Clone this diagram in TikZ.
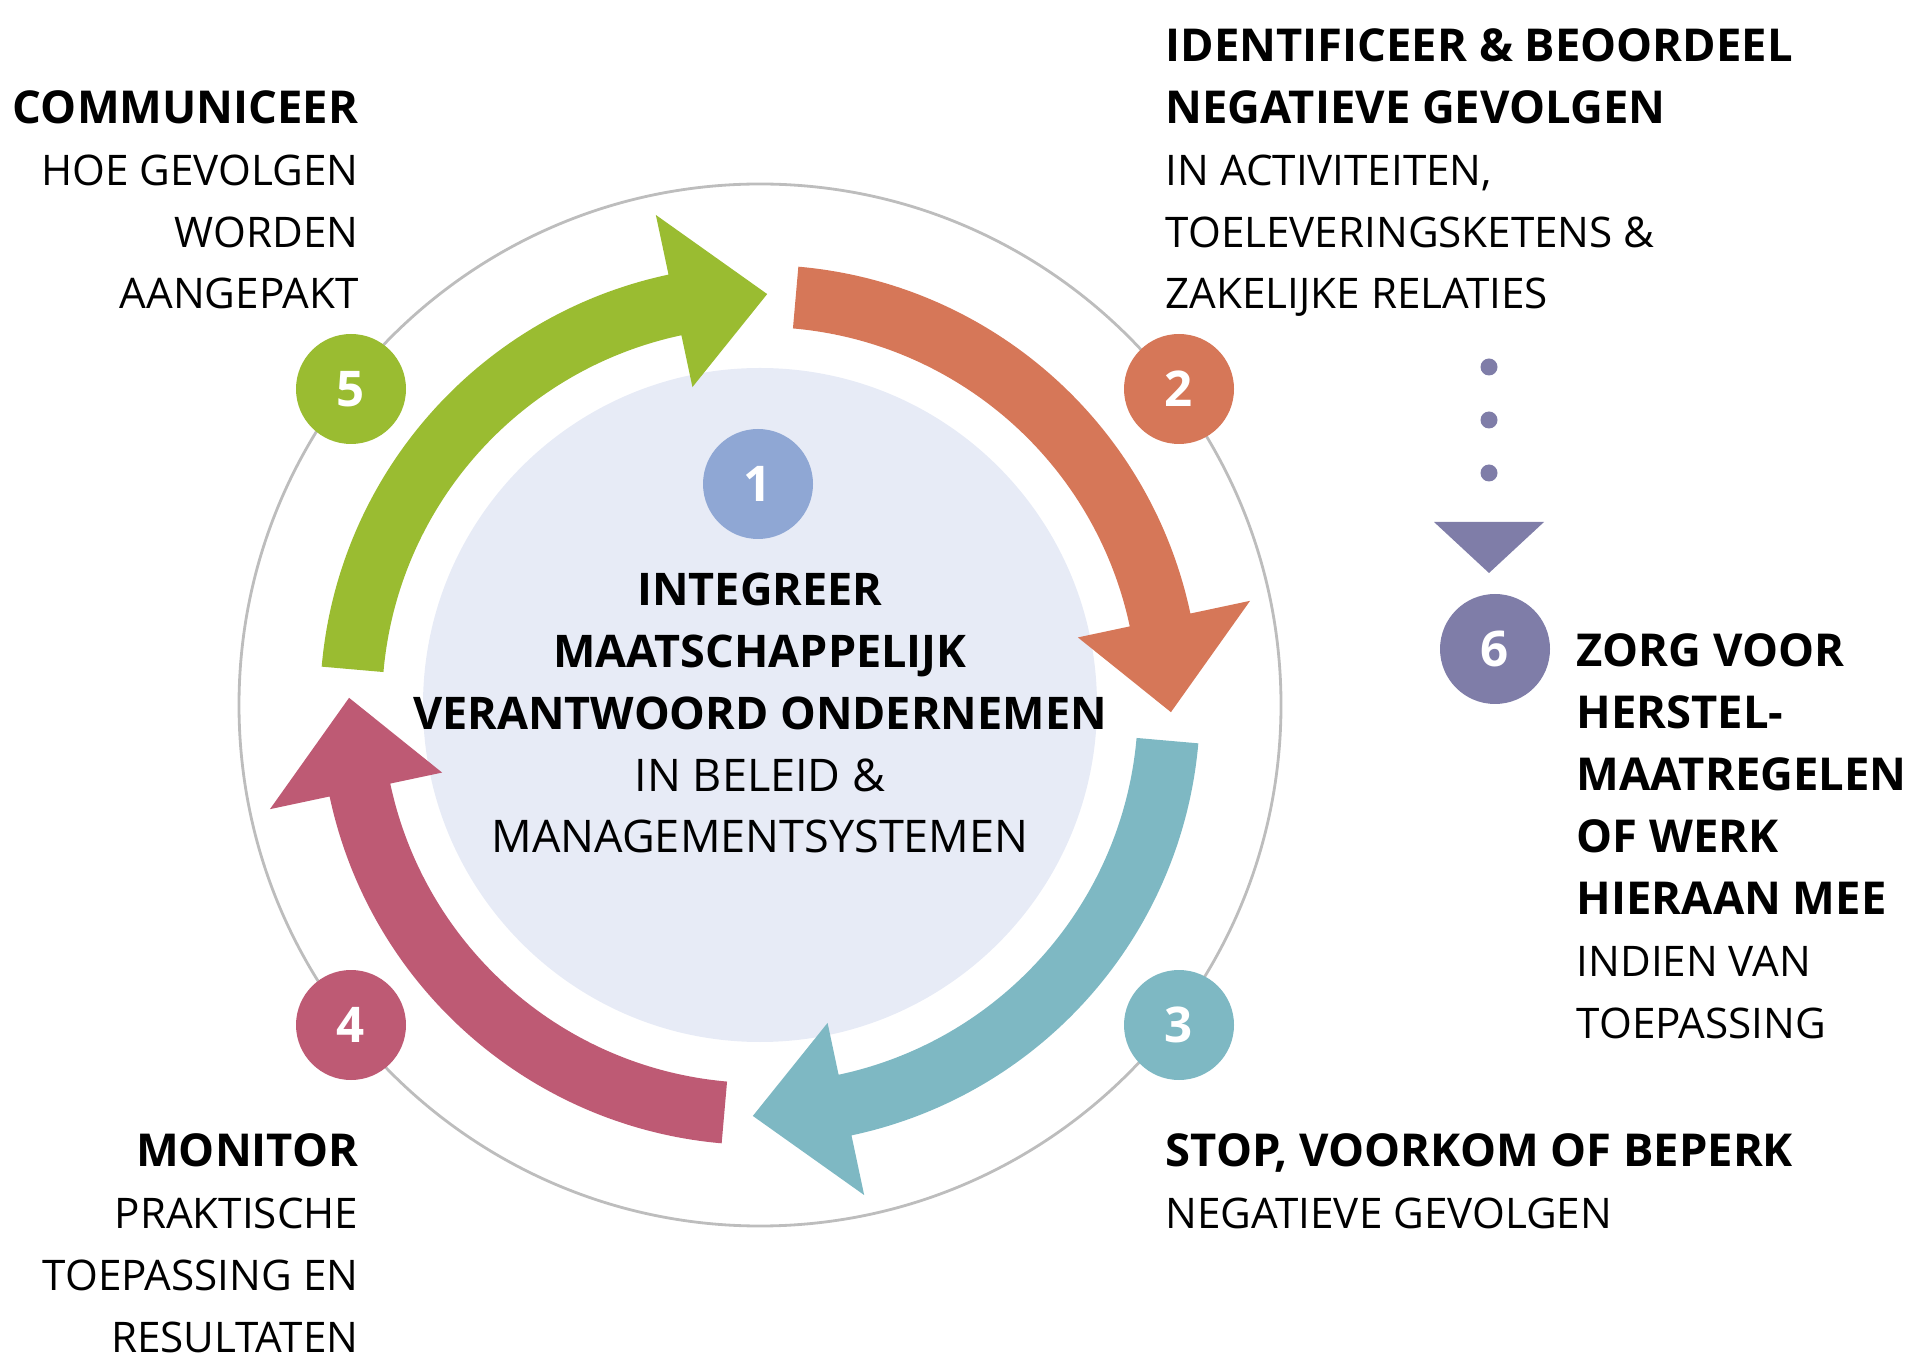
\documentclass[tikz,border=0pt]{standalone}
\usepackage{fontspec}
\setmainfont{Open Sans}
\usepackage{tikz}
\usetikzlibrary{calc}
\definecolor{ring}{HTML}{BDBDBD}
\definecolor{core}{HTML}{E7EBF6}
\definecolor{stepone}{HTML}{8FA7D4}
\definecolor{steptwo}{HTML}{D67758}
\definecolor{stepthree}{HTML}{7EB8C3}
\definecolor{stepfour}{HTML}{BE5A74}
\definecolor{stepfive}{HTML}{9ABC31}
\definecolor{stepsix}{HTML}{7F7DA8}
\newcommand{\stephead}[1]{{\fontsize{12.9}{17.6}\selectfont\bfseries #1}}

\begin{document}
\begin{tikzpicture}[
    numdot/.style={
        circle, minimum size=1.1cm, inner sep=0pt, text=white,
        font=\fontsize{14}{14}\selectfont\bfseries,
    },
    sidetext/.style={
        inner sep=0pt, font=\fontsize{12}{17.6}\selectfont,
    },
    dotline/.style={
        stepsix, line width=1.7mm, line cap=round,
        dash pattern=on 0pt off 5.3mm,
    },
]
\useasboundingbox (0,0) rectangle (19.2,13.65);
\coordinate (C) at (7.6,6.6);

% =============================================
% RING and light core
% =============================================
\draw[ring, line width=0.8pt] (C) circle (5.21);
\fill[core] (C) circle (3.37);

% =============================================
% CYCLE ARROWS – thick arcs, clockwise
% =============================================
\begin{scope}[shift={(7.6,6.6)}]
  \foreach \b/\col in {180/stepfive, 90/steptwo, 0/stepthree, -90/stepfour} {
    \fill[\col] (\b-5:4.40) arc[start angle=\b-5, end angle=\b-78, radius=4.40]
      -- (\b-78:5.01) -- (\b-91:4.11) -- (\b-78:3.25)
      -- (\b-78:3.78) arc[start angle=\b-78, end angle=\b-5, radius=3.78] -- cycle;
  }
\end{scope}

% Step numbers on the ring
\node[numdot, fill=steptwo]   (n2) at (11.79,9.76) {2};
\node[numdot, fill=stepthree] (n3) at (11.79,3.40) {3};
\node[numdot, fill=stepfour]  (n4) at (3.51,3.40)  {4};
\node[numdot, fill=stepfive]  (n5) at (3.51,9.76)  {5};
\node[numdot, fill=stepone]   (n1) at (7.58,8.81)  {1};

% Centre label (base = last line)
\node[sidetext, font=\fontsize{12.8}{17.6}\selectfont, align=center, anchor=base] (core) at (7.6,5.12) {%
  \textbf{INTEGREER}\\
  \textbf{MAATSCHAPPELIJK}\\
  \textbf{VERANTWOORD ONDERNEMEN}\\
  IN BELEID \&\\
  MANAGEMENTSYSTEMEN};

% =============================================
% SIDE LABELS
% =============================================
\node[sidetext, align=right, anchor=base east] (communicate) at (3.59,10.56) {%
  \stephead{COMMUNICEER}\\
  HOE GEVOLGEN\\
  WORDEN\\
  AANGEPAKT};

\node[sidetext, align=left, anchor=base west] (identify) at (11.65,10.56) {%
  \stephead{IDENTIFICEER \& BEOORDEEL}\\
  \stephead{NEGATIEVE GEVOLGEN}\\
  IN ACTIVITEITEN,\\
  TOELEVERINGSKETENS \&\\
  ZAKELIJKE RELATIES};

\node[sidetext, align=right, anchor=base east] (monitor) at (3.59,0.13) {%
  \stephead{MONITOR}\\
  PRAKTISCHE\\
  TOEPASSING EN\\
  RESULTATEN};

\node[sidetext, align=left, anchor=base west] (prevent) at (11.65,1.37) {%
  \stephead{STOP, VOORKOM OF BEPERK}\\
  NEGATIEVE GEVOLGEN};

% =============================================
% STEP 6 – dotted lead-in with triangle
% =============================================
\coordinate (dots) at (14.89,9.98);
\coordinate (tri) at (14.89,8.40);
\draw[dotline] (dots) -- (tri);
\fill[stepsix] ($(tri)+(-0.55,0.03)$) -- ++(1.10,0) -- (14.89,7.92) -- cycle;

\node[numdot, fill=stepsix] (n6) at (14.95,7.16) {6};

\node[sidetext, align=left, anchor=base west] (remedy) at (15.76,3.27) {%
  \stephead{ZORG VOOR}\\
  \stephead{HERSTEL-}\\
  \stephead{MAATREGELEN}\\
  \stephead{OF WERK}\\
  \stephead{HIERAAN MEE}\\
  INDIEN VAN\\
  TOEPASSING};

\end{tikzpicture}
\end{document}
